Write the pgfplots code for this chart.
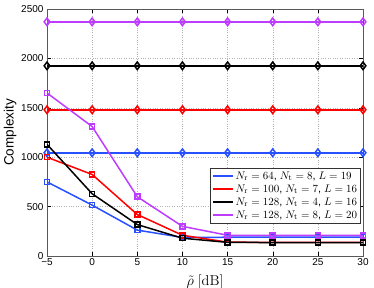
\documentclass[border=0pt]{standalone}
\usepackage[no-math]{fontspec}
\setmainfont{Liberation Sans}
\usepackage{pgfplots}
\pgfplotsset{compat=1.18}
\definecolor{mblue}{RGB}{40,80,255}
\definecolor{mred}{RGB}{255,0,0}
\definecolor{mpurple}{RGB}{190,60,255}
\begin{document}
\begin{tikzpicture}
\begin{axis}[
  scale only axis, width=316pt, height=247pt,
  xmin=-5, xmax=30, ymin=0, ymax=2500,
  xtick={-5,0,...,30}, ytick={0,500,...,2500},
  xticklabels={−5,0,5,10,15,20,25,30},
  grid=major, grid style={dotted, gray!60},
  tick align=inside, tick style={black},
  axis line style={gray!70!black, line width=0.8pt},
  /pgf/number format/assume math mode=true,
  /pgf/number format/set thousands separator={},
  tick label style={font=\fontsize{10}{12}\selectfont},
  xticklabel style={yshift=1pt},
  xlabel={\fontsize{14.5}{16}\selectfont $\tilde{\rho}\ [\mathrm{dB}]$},
  ylabel={\fontsize{13.5}{15}\selectfont Complexity},
  xlabel style={anchor=center, at={(axis description cs:0.5,-0.103)}},
  ylabel style={yshift=-2pt},
  legend style={at={(0.994,0.357)}, anchor=north east, font=\fontsize{11}{12.5}\selectfont, draw=black!80, line width=0.8pt, row sep=0pt, inner sep=1.5pt},
  legend cell align=left,
  legend image code/.code={\draw[#1, mark=none, line width=1.8pt] (0.15cm,0cm) -- (0.85cm,0cm);},
  every axis plot/.append style={line width=1.5pt},
]
% diamonds (constant)
\addplot[mblue, mark=diamond, mark size=3.8pt, forget plot] coordinates {(-5,1045)(0,1045)(5,1045)(10,1045)(15,1045)(20,1045)(25,1045)(30,1045)};
\addplot[mred, mark=diamond, mark size=3.8pt, forget plot] coordinates {(-5,1480)(0,1480)(5,1480)(10,1480)(15,1480)(20,1480)(25,1480)(30,1480)};
\addplot[black, mark=diamond, mark size=3.8pt, forget plot] coordinates {(-5,1925)(0,1925)(5,1925)(10,1925)(15,1925)(20,1925)(25,1925)(30,1925)};
\addplot[mpurple, mark=diamond, mark size=3.8pt, forget plot] coordinates {(-5,2370)(0,2370)(5,2370)(10,2370)(15,2370)(20,2370)(25,2370)(30,2370)};
% squares
\addplot[mblue, mark=square, mark size=2.5pt] coordinates {(-5,750)(0,515)(5,262)(10,188)(15,190)(20,190)(25,190)(30,190)};
\addlegendentry{$N_{\mathrm{r}}=64$, $N_{\mathrm{t}}=8$, $L=19$}
\addplot[mred, mark=square, mark size=2.5pt] coordinates {(-5,1000)(0,825)(5,420)(10,210)(15,140)(20,138)(25,138)(30,138)};
\addlegendentry{$N_{\mathrm{r}}=100$, $N_{\mathrm{t}}=7$, $L=16$}
\addplot[black, mark=square, mark size=2.5pt] coordinates {(-5,1130)(0,630)(5,318)(10,180)(15,138)(20,136)(25,136)(30,136)};
\addlegendentry{$N_{\mathrm{r}}=128$, $N_{\mathrm{t}}=4$, $L=16$}
\addplot[mpurple, mark=square, mark size=2.5pt] coordinates {(-5,1650)(0,1310)(5,600)(10,300)(15,210)(20,210)(25,210)(30,210)};
\addlegendentry{$N_{\mathrm{r}}=128$, $N_{\mathrm{t}}=8$, $L=20$}
\end{axis}
\pgfresetboundingbox
\path ([shift={(-47pt,-32pt)}]current axis.south west) rectangle ([shift={(11pt,9pt)}]current axis.north east);
\end{tikzpicture}
\end{document}
